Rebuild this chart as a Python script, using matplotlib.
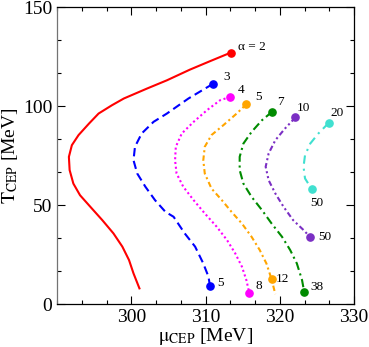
import matplotlib as mp
mp.use("Agg")
import matplotlib.pyplot as plt

plt.rcParams['font.family'] = ['Liberation Serif', 'DejaVu Serif']
plt.rcParams['mathtext.fontset'] = 'stix'

# curves: mu_CEP (x) and T_CEP (y), from top point to bottom point
mu2 = [313.4, 310.5, 307.9, 304.8, 302.1, 299.0, 297.4, 295.6, 294.3, 292.9, 292.0, 291.6, 291.7,
       292.2, 293.1, 294.5, 296.1, 297.6, 298.8, 299.7, 300.3, 301.1]
T2 = [127.1, 122.6, 118.5, 113.1, 108.9, 103.9, 100.5, 96.3, 91.2, 85.4, 80.3, 74.4, 67.7,
      60.9, 55.0, 49.1, 42.4, 35.7, 29.0, 22.2, 15.5, 7.9]

mu3 = [311.0, 307.7, 304.8, 303.0, 301.4, 300.5, 300.3, 300.8, 301.9, 303.2, 304.6, 305.7,
       307.2, 308.6, 309.7, 310.4, 310.6]
T3 = [111.3, 103.9, 96.3, 92.1, 86.2, 79.5, 72.7, 66.0, 59.3, 52.5, 46.6, 44.1,
      35.7, 29.0, 20.5, 13.8, 9.1]

mu4 = [313.3, 311.95, 310.2, 308.4, 306.8, 306.0, 305.9, 306.1, 307.0, 308.4, 309.9, 311.5,
       312.9, 314.0, 314.9, 315.5, 315.9]
T4 = [104.7, 103.0, 98.0, 92.1, 86.2, 79.5, 72.7, 66.0, 59.3, 52.5, 45.8, 39.1,
      32.3, 25.6, 18.9, 12.1, 5.6]

mu5 = [315.5, 314.2, 312.4, 310.8, 309.9, 309.7, 309.9, 310.8, 312.2, 313.5, 314.9, 316.2,
       317.3, 318.2, 318.9, 319.4]
T5 = [101.0, 96.3, 90.4, 85.4, 79.5, 72.7, 66.0, 58.4, 52.5, 46.6, 40.7, 34.0,
      27.3, 20.5, 12.5, 5.0]
dot5 = (318.9, 12.5)

mu7 = [319.0, 317.6, 316.2, 315.1, 314.6, 314.6, 315.1, 316.2, 317.6, 318.9, 320.3, 321.4,
       322.3, 323.0, 323.3]
T7 = [97.3, 92.9, 87.0, 81.1, 74.4, 67.7, 60.9, 54.2, 47.5, 40.7, 34.0, 27.3,
      20.5, 12.1, 5.9]

mu10 = [322.1, 320.7, 319.4, 318.5, 318.1, 318.5, 319.4, 320.5, 321.8, 323.2, 324.1]
T10 = [94.3, 88.7, 82.8, 76.1, 69.4, 62.6, 55.9, 49.2, 42.4, 37.4, 33.8]

mu20 = [326.6, 325.2, 324.1, 323.4, 323.2, 323.4, 324.3]
T20 = [91.6, 86.2, 81.1, 75.2, 69.4, 63.5, 58.1]

fig = plt.figure(figsize=(3.69, 3.47), dpi=100)
ax = fig.add_axes([0.1545, 0.1239, 0.8049, 0.855])

lw = 1.5
ax.plot(mu2, T2, color='#ff0000', lw=lw)
ax.plot(mu3, T3, color='#0000ff', lw=lw, dashes=(4, 2.2))
ax.plot(mu4, T4, color='#ff00ff', lw=lw, dashes=(1, 1.3))
ax.plot(mu5, T5, color='#ffa500', lw=lw, dashes=(2.6, 1.5, 1, 1.5))
ax.plot(mu7, T7, color='#008b00', lw=lw, dashes=(4, 1.8, 1, 1.8))
ax.plot(mu10, T10, color='#7b2fc4', lw=lw, dashes=(2.6, 1.4, 1, 1.4, 1, 1.4))
ax.plot(mu20, T20, color='#40e0d0', lw=lw, dashes=(4, 2.4, 1, 2.4))

ms = 5.2
ax.plot(mu2[0], T2[0], 'o', color='#ff0000', ms=ms)
ax.plot([mu3[0], mu3[-1]], [T3[0], T3[-1]], 'o', color='#0000ff', ms=ms, ls='none')
ax.plot([mu4[0], mu4[-1]], [T4[0], T4[-1]], 'o', color='#ff00ff', ms=ms, ls='none')
ax.plot([mu5[0], dot5[0]], [T5[0], dot5[1]], 'o', color='#ffa500', ms=ms, ls='none')
ax.plot([mu7[0], mu7[-1]], [T7[0], T7[-1]], 'o', color='#008b00', ms=ms, ls='none')
ax.plot([mu10[0], mu10[-1]], [T10[0], T10[-1]], 'o', color='#7b2fc4', ms=ms, ls='none')
ax.plot([mu20[0], mu20[-1]], [T20[0], T20[-1]], 'o', color='#40e0d0', ms=ms, ls='none')

fs = 9.5
def lab(s, xy, off, ha='center'):
    ax.annotate(s, xy=xy, xytext=off, textcoords='offset points',
                ha=ha, va='center', fontsize=fs)

lab('α = 2', (mu2[0], T2[0]), (5, 4), ha='left')
lab('3', (mu3[0], T3[0]), (9.8, 5.3))
lab('4', (mu4[0], T4[0]), (8.2, 5.3))
lab('5', (mu5[0], T5[0]), (8.4, 5.5))
lab('7', (mu7[0], T7[0]), (6, 7.2))
lab('10', (mu10[0], T10[0]), (6, 7))
lab('20', (mu20[0], T20[0]), (5.8, 6.8))
lab('50', (mu20[-1], T20[-1]), (3.6, -9.9))
lab('50', (mu10[-1], T10[-1]), (10.8, 0))
lab('5', (mu3[-1], T3[-1]), (7.7, 1.9))
lab('8', (mu4[-1], T4[-1]), (6.7, 4.8))
lab('12', dot5, (8.1, 0))
lab('38', (mu7[-1], T7[-1]), (9.4, 3.6))

ax.set_xlim(290, 330)
ax.set_ylim(0, 150)
ax.set_xticks([300, 310, 320, 330])
ax.set_xticks([290 + i * 10 / 3 for i in range(13)], minor=True)
ax.set_yticks([0, 50, 100, 150])
ax.set_yticks([i * 50 / 3 for i in range(10)], minor=True)
ax.tick_params(which='both', direction='in', top=True, right=True, labelsize=14, width=0.8)
ax.tick_params(which='major', length=5.5)
ax.tick_params(which='minor', length=3)
for s in ax.spines.values():
    s.set_linewidth(0.9)
ax.spines['left'].set_color('0.45')

ax.set_xlabel(r'$\mathrm{\mu}_{\mathrm{CEP}}$ [MeV]', fontsize=14, labelpad=0)
ax.set_ylabel(r'$\mathrm{T}_{\mathrm{CEP}}$ [MeV]', fontsize=14, labelpad=2)

fig.savefig('out.png', dpi=100)
